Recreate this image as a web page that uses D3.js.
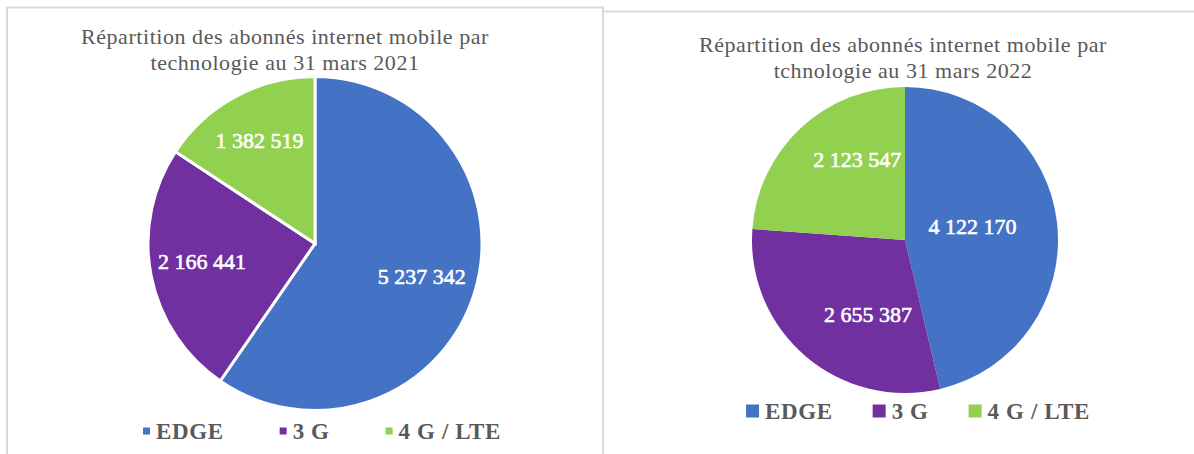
<!DOCTYPE html>
<html>
<head>
<meta charset="utf-8">
<script src="https://cdn.jsdelivr.net/npm/d3@7"></script>
<style>
  body { margin: 0; background: #fff; }
  svg { display: block; }
</style>
</head>
<body>
<svg id="chart" width="1194" height="454"></svg>
<script>
// technologies
const categories = ["EDGE", "3 G", "4 G / LTE"];
// abonnés par technologie
const values2021 = [5237342, 2166441, 1382519];
const values2022 = [4122170, 2655387, 2123547];
const titles2021 = ["Répartition des abonnés internet mobile par", "technologie au 31 mars 2021"];
const titles2022 = ["Répartition des abonnés internet mobile par", "tchnologie au 31 mars 2022"];

const colors = ["#4472C4", "#7030A0", "#92D050"];
const color = d3.scaleOrdinal().domain(categories).range(colors);

const fmt = d3.formatLocale({decimal: ",", thousands: " ", grouping: [3], currency: ["", ""]}).format(",");

const svg = d3.select("#chart");

// panel borders
svg.append("path")
    .attr("d", "M7,454 V7.5 H603 V454")
    .attr("fill", "none")
    .attr("stroke", "#d9d9d9")
    .attr("stroke-width", 2);
svg.append("line")
    .attr("x1", 604).attr("x2", 1194)
    .attr("y1", 11.5).attr("y2", 11.5)
    .attr("stroke", "#d9d9d9")
    .attr("stroke-width", 2);

const drawPie = (values, titles, opt) => {
    const data = categories.map((c, i) => ({name: c, value: values[i]}));
    const pie = d3.pie().sort(null).value(d => d.value);
    const arcs = pie(data);

    const arc = d3.arc().innerRadius(0).outerRadius(opt.r);

    const g = svg.append("g")
                 .attr("transform", "translate(" + opt.cx + "," + opt.cy + ")");

    g.selectAll("path")
        .data(arcs)
        .enter()
        .append("path")
        .attr("d", arc)
        .style("fill", d => color(d.data.name))
        .style("stroke", "#ffffff")
        .style("stroke-width", opt.stroke);

    g.selectAll("text")
        .data(arcs)
        .enter()
        .append("text")
        .attr("transform", (d, i) => {
            const a = (d.startAngle + d.endAngle) / 2 + opt.labelShift[i];
            const rr = opt.r * opt.labelPos[i];
            return "translate(" + (Math.sin(a) * rr) + "," + (-Math.cos(a) * rr) + ")";
        })
        .attr("text-anchor", "middle")
        .attr("dy", "0.35em")
        .style("font-family", "'Liberation Serif', serif")
        .style("font-size", "22px")
        .style("fill", "#ffffff")
        .style("stroke", "#ffffff")
        .style("stroke-width", 0.6)
        .text(d => fmt(d.data.value));

    svg.append("g")
        .selectAll("text")
        .data(titles)
        .enter()
        .append("text")
        .attr("x", opt.titleX)
        .attr("y", (d, i) => opt.titleY + i * 26)
        .attr("text-anchor", "middle")
        .style("font-family", "'Liberation Serif', serif")
        .style("font-size", "22px")
        .style("letter-spacing", "0.55px")
        .style("fill", "#595959")
        .text(d => d);

    // legend
    const lg = svg.append("g");
    const items = lg.selectAll("g")
                    .data(categories)
                    .enter()
                    .append("g");
    items.append("rect")
        .attr("width", opt.sw)
        .attr("height", opt.sw)
        .attr("y", -opt.sw / 2)
        .style("fill", d => color(d));
    items.append("text")
        .attr("x", opt.sw + 6)
        .attr("dy", "0.35em")
        .style("font-family", "'Liberation Serif', serif")
        .style("font-size", "23px")
        .style("font-weight", "bold")
        .style("letter-spacing", "0.6px")
        .style("fill", "#595959")
        .text(d => d);

    let x = 0;
    items.each(function() {
        const w = this.getBBox().width;
        d3.select(this).attr("transform", "translate(" + x + ",0)");
        x += w + opt.gap;
    });
    const total = x - opt.gap;
    lg.attr("transform", "translate(" + (opt.legendX - total / 2) + "," + opt.legendY + ")");
};

drawPie(values2021, titles2021, {
    cx: 315, cy: 243.5, r: 167, stroke: 3,
    labelPos: [0.67, 0.684, 0.7], labelShift: [0, 0.04, 0],
    titleX: 285, titleY: 44,
    legendX: 322, legendY: 431, sw: 7, gap: 56
});

drawPie(values2022, titles2022, {
    cx: 905, cy: 240, r: 153, stroke: 0,
    labelPos: [0.45, 0.54, 0.615], labelShift: [-0.09, -0.24, 0.216],
    titleX: 903, titleY: 52,
    legendX: 918, legendY: 411, sw: 13, gap: 40
});
</script>
</body>
</html>
